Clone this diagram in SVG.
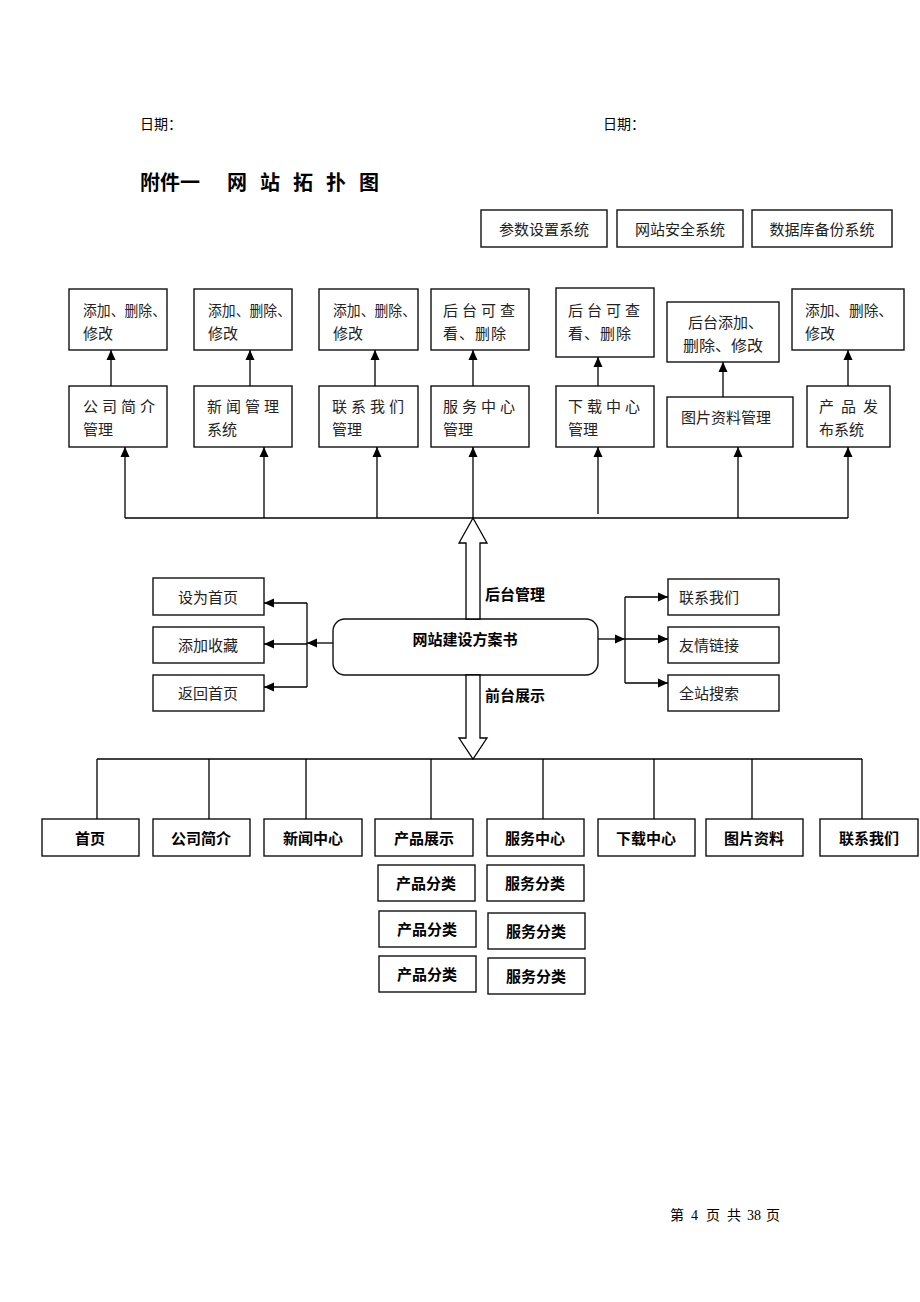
<svg xmlns="http://www.w3.org/2000/svg" width="920" height="1302" viewBox="0 0 920 1302">
<defs>
<marker id="ah" markerUnits="userSpaceOnUse" markerWidth="10" markerHeight="10" viewBox="0 0 10 10" refX="10" refY="5" orient="auto">
<path d="M0,0.5 L10,5 L0,9.5 Z" fill="#000"/>
</marker>
<style>
.box{fill:#fff;stroke:#111;stroke-width:1.4}
.t{font-family:"Noto Sans CJK SC","Noto Sans CJK JP",sans-serif;font-size:15px;fill:#222}
.c{text-anchor:middle}
.b{font-family:"Noto Sans CJK SC","Noto Sans CJK JP",sans-serif;font-size:15px;font-weight:bold;fill:#000}
.s{font-family:"Liberation Serif","Noto Sans CJK SC",serif;font-size:14px;fill:#000}
.sc{font-family:"Noto Sans CJK SC",sans-serif;font-size:14px;fill:#000}
.ln{stroke:#000;stroke-width:1.3;fill:none}
.ar{stroke:#000;stroke-width:1.3;fill:none;marker-end:url(#ah)}
.hollow{fill:#fff;stroke:#000;stroke-width:1.3}
</style>
</defs>
<rect width="920" height="1302" fill="#fff"/>

<g id="header">
<text class="sc" x="140" y="129">日期：</text>
<text class="sc" x="603" y="129">日期：</text>
<text class="b" x="140" y="190" style="font-size:20px">附件一</text>
<text class="b" y="190" style="font-size:20px"><tspan x="227">网</tspan><tspan x="260">站</tspan><tspan x="293">拓</tspan><tspan x="326">扑</tspan><tspan x="359">图</tspan></text>
</g>

<g id="sys1"><rect class="box" x="481" y="210" width="126" height="37"/><text class="t c" x="544" y="235">参数设置系统</text></g>
<g id="sys2"><rect class="box" x="617" y="210" width="126" height="37"/><text class="t c" x="680" y="235">网站安全系统</text></g>
<g id="sys3"><rect class="box" x="752" y="210" width="140" height="37"/><text class="t c" x="822" y="235">数据库备份系统</text></g>

<g id="op1"><rect class="box" x="69" y="289" width="98" height="61"/><text class="t" x="83" y="316" textLength="83" lengthAdjust="spacingAndGlyphs">添加、删除、</text><text class="t" x="83" y="339">修改</text></g>
<g id="op2"><rect class="box" x="194" y="289" width="98" height="61"/><text class="t" x="208" y="316" textLength="83" lengthAdjust="spacingAndGlyphs">添加、删除、</text><text class="t" x="208" y="339">修改</text></g>
<g id="op3"><rect class="box" x="319" y="289" width="99" height="61"/><text class="t" x="333" y="316" textLength="83" lengthAdjust="spacingAndGlyphs">添加、删除、</text><text class="t" x="333" y="339">修改</text></g>
<g id="op4"><rect class="box" x="431" y="289" width="98" height="61"/><text class="t" x="443" y="316" letter-spacing="4">后台可查</text><text class="t" x="443" y="339" letter-spacing="1">看、删除</text></g>
<g id="op5"><rect class="box" x="556" y="288" width="98" height="69"/><text class="t" x="568" y="316" letter-spacing="4">后台可查</text><text class="t" x="568" y="339" letter-spacing="1">看、删除</text></g>
<g id="op6"><rect class="box" x="667" y="302" width="112" height="60"/><text class="t" x="688" y="328">后台添加、</text><text class="t" x="683" y="351" textLength="80" lengthAdjust="spacingAndGlyphs">删除、修改</text></g>
<g id="op7"><rect class="box" x="792" y="289" width="112" height="61"/><text class="t" x="805" y="316" textLength="88" lengthAdjust="spacingAndGlyphs">添加、删除、</text><text class="t" x="805" y="339">修改</text></g>

<g id="m1"><rect class="box" x="69" y="386" width="98" height="61"/><text class="t" x="83" y="412" letter-spacing="4">公司简介</text><text class="t" x="83" y="435">管理</text></g>
<g id="m2"><rect class="box" x="194" y="386" width="98" height="61"/><text class="t" x="207" y="412" letter-spacing="4">新闻管理</text><text class="t" x="207" y="435">系统</text></g>
<g id="m3"><rect class="box" x="319" y="386" width="99" height="61"/><text class="t" x="332" y="412" letter-spacing="4">联系我们</text><text class="t" x="332" y="435">管理</text></g>
<g id="m4"><rect class="box" x="431" y="386" width="98" height="61"/><text class="t" x="443" y="412" letter-spacing="4">服务中心</text><text class="t" x="443" y="435">管理</text></g>
<g id="m5"><rect class="box" x="556" y="386" width="98" height="61"/><text class="t" x="568" y="412" letter-spacing="4">下载中心</text><text class="t" x="568" y="435">管理</text></g>
<g id="m6"><rect class="box" x="667" y="397" width="126" height="50"/><text class="t" x="681" y="423">图片资料管理</text></g>
<g id="m7"><rect class="box" x="807" y="386" width="83" height="61"/><text class="t" x="819" y="412" letter-spacing="7">产品发</text><text class="t" x="819" y="435">布系统</text></g>

<g id="center"><rect class="box" x="333" y="619" width="265" height="56" rx="12" ry="12"/><text class="b c" x="465" y="645">网站建设方案书</text></g>

<g id="l1"><rect class="box" x="153" y="578" width="111" height="37"/><text class="t c" x="208" y="603">设为首页</text></g>
<g id="l2"><rect class="box" x="153" y="627" width="111" height="36"/><text class="t c" x="208" y="651">添加收藏</text></g>
<g id="l3"><rect class="box" x="153" y="675" width="111" height="36"/><text class="t c" x="208" y="699">返回首页</text></g>

<g id="r1"><rect class="box" x="668" y="579" width="111" height="36"/><text class="t" x="679" y="603">联系我们</text></g>
<g id="r2"><rect class="box" x="668" y="627" width="111" height="36"/><text class="t" x="679" y="651">友情链接</text></g>
<g id="r3"><rect class="box" x="668" y="675" width="111" height="36"/><text class="t" x="679" y="699">全站搜索</text></g>

<g id="f1"><rect class="box" x="42" y="819" width="97" height="37"/><text class="b c" x="90" y="844">首页</text></g>
<g id="f2"><rect class="box" x="153" y="819" width="97" height="37"/><text class="b c" x="201" y="844">公司简介</text></g>
<g id="f3"><rect class="box" x="264" y="819" width="98" height="37"/><text class="b c" x="313" y="844">新闻中心</text></g>
<g id="f4"><rect class="box" x="375" y="819" width="98" height="37"/><text class="b c" x="424" y="844">产品展示</text></g>
<g id="f5"><rect class="box" x="487" y="819" width="97" height="37"/><text class="b c" x="535" y="844">服务中心</text></g>
<g id="f6"><rect class="box" x="598" y="819" width="97" height="37"/><text class="b c" x="646" y="844">下载中心</text></g>
<g id="f7"><rect class="box" x="706" y="819" width="97" height="37"/><text class="b c" x="754" y="844">图片资料</text></g>
<g id="f8"><rect class="box" x="820" y="819" width="98" height="37"/><text class="b c" x="869" y="844">联系我们</text></g>

<g id="p1"><rect class="box" x="378" y="865" width="97" height="36"/><text class="b c" x="426" y="889">产品分类</text></g>
<g id="p2"><rect class="box" x="379" y="911" width="97" height="36"/><text class="b c" x="427" y="935">产品分类</text></g>
<g id="p3"><rect class="box" x="379" y="956" width="97" height="36"/><text class="b c" x="427" y="980">产品分类</text></g>
<g id="sv1"><rect class="box" x="487" y="865" width="97" height="36"/><text class="b c" x="535" y="889">服务分类</text></g>
<g id="sv2"><rect class="box" x="488" y="913" width="97" height="36"/><text class="b c" x="536" y="937">服务分类</text></g>
<g id="sv3"><rect class="box" x="488" y="958" width="97" height="36"/><text class="b c" x="536" y="982">服务分类</text></g>

<g id="connectors">
<path class="ar" d="M111,386 V350"/>
<path class="ar" d="M250,386 V350"/>
<path class="ar" d="M375,386 V350"/>
<path class="ar" d="M473,386 V350"/>
<path class="ar" d="M598,386 V357"/>
<path class="ar" d="M723,397 V362"/>
<path class="ar" d="M848,386 V350"/>
<path class="ln" d="M125,518 H848"/>
<path class="ar" d="M125,518 V447"/>
<path class="ar" d="M264,518 V447"/>
<path class="ar" d="M377,518 V447"/>
<path class="ar" d="M473,518 V447"/>
<path class="ar" d="M598,514 V447"/>
<path class="ar" d="M738,518 V447"/>
<path class="ar" d="M848,518 V447"/>
<polygon class="hollow" points="466,619 466,543 459,543 473,518 487,543 480,543 480,619"/>
<polygon class="hollow" points="466,675 466,738 459,738 473,759 487,738 480,738 480,675"/>
<text class="b" x="485" y="600">后台管理</text>
<text class="b" x="485" y="701">前台展示</text>
<path class="ar" d="M333,643 H307"/>
<path class="ln" d="M307,603 V687"/>
<path class="ar" d="M307,603 H264"/>
<path class="ar" d="M307,644 H264"/>
<path class="ar" d="M307,687 H264"/>
<path class="ar" d="M598,639 H625"/>
<path class="ln" d="M625,597 V683"/>
<path class="ar" d="M625,597 H668"/>
<path class="ar" d="M625,639 H668"/>
<path class="ar" d="M625,683 H668"/>
<path class="ln" d="M97,759 H862"/>
<path class="ln" d="M97,759 V819 M209,759 V819 M306,759 V819 M431,759 V819 M543,759 V819 M654,759 V819 M752,759 V819 M862,759 V819"/>
</g>

<g id="footer">
<text class="sc" x="670" y="1220">第</text>
<text class="s" x="691" y="1220">4</text>
<text class="sc" x="706" y="1220">页</text>
<text class="sc" x="727" y="1220">共</text>
<text class="s" x="747" y="1220">38</text>
<text class="sc" x="766" y="1220">页</text>
</g>
</svg>
